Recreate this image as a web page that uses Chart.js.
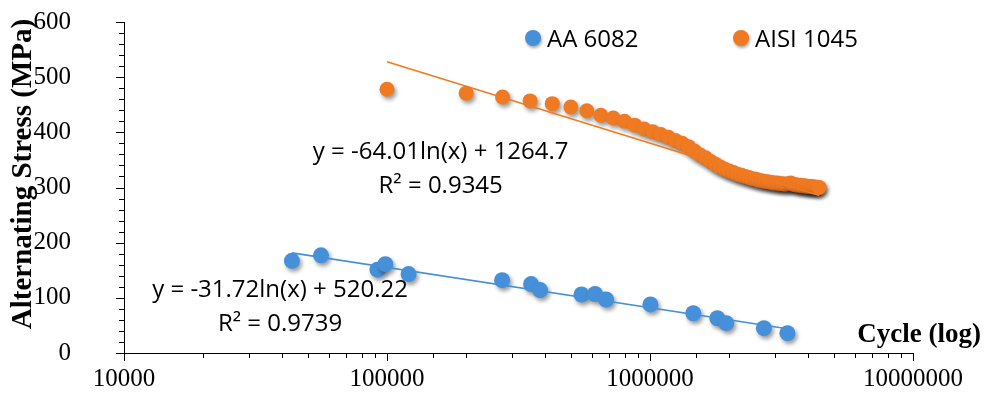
<!DOCTYPE html>
<html>
<head>
<meta charset="utf-8">
<script src="https://cdn.jsdelivr.net/npm/chart.js@4.4.1/dist/chart.umd.min.js"></script>
<style>
  html, body { margin: 0; padding: 0; background: #fff; }
  #wrap { width: 984px; height: 398px; }
</style>
</head>
<body>
<div id="wrap"><canvas id="sn" width="984" height="398"></canvas></div>
<script>
// S-N data
const seriesNames = ['AA 6082', 'AISI 1045'];

const aaCycles = [43500, 56100, 92000, 98600, 120800, 274000, 353000, 382000, 549000, 618000,
  681000, 1004000, 1461000, 1803000, 1950000, 2710000, 3330000];
const aaStress = [167, 177, 151, 161, 143, 132, 125, 114, 106, 107,
  97, 88, 72, 63, 54, 45, 36];

const aisiCycles = [100000, 200000, 275000, 350000, 425000, 500000, 575000, 650000, 725000, 800000,
  875000, 950000, 1025000, 1100000, 1175000, 1250000, 1325000, 1400000, 1475000, 1550000,
  1625000, 1700000, 1775000, 1850000, 1925000, 2000000, 2075000, 2150000, 2225000, 2300000,
  2375000, 2450000, 2525000, 2600000, 2675000, 2750000, 2825000, 2900000, 2975000, 3050000,
  3125000, 3200000, 3275000, 3350000, 3425000, 3500000, 3575000, 3650000, 3725000, 3800000,
  3875000, 3950000, 4025000, 4100000, 4175000, 4250000, 4325000, 4400000];
const aisiStress = [478, 471, 464, 457, 452, 446, 439, 431, 426, 420,
  413, 406, 401, 396, 391, 385, 380, 374, 366, 359,
  354, 347, 342, 337, 333, 330, 327, 324, 322, 320,
  318, 316, 315, 313, 312, 311, 310, 309, 308, 308,
  307, 307, 306, 307, 308, 306, 305, 304, 304, 303,
  303, 302, 302, 302, 301, 301, 300, 300];

// log trend lines y = a*ln(x) + b
const aaFit = [-31.72, 520.22];
const aisiFit = [-64.01, 1264.7];
const aaFitText = ['y = -31.72ln(x) + 520.22', 'R\u00b2 = 0.9739'];
const aisiFitText = ['y = -64.01ln(x) + 1264.7', 'R\u00b2 = 0.9345'];

const xTickValues = [10000, 100000, 1000000, 10000000];
const yTickValues = [0, 100, 200, 300, 400, 500, 600];

const blue = '#4590d8';
const orange = '#f07a22';

function pts(xs, ys) {
  return xs.map((x, i) => ({ x: x, y: ys[i] }));
}
function fitLine(xs, fit) {
  const lo = Math.min(...xs), hi = Math.max(...xs);
  return [lo, hi].map(x => ({ x: x, y: fit[0] * Math.log(x) + fit[1] }));
}
function isDecade(v) {
  const l = Math.log10(v);
  return Math.abs(l - Math.round(l)) < 1e-6;
}

// drop shadow under the markers
const shadowPlugin = {
  id: 'shadow',
  beforeDatasetDraw(chart, args) {
    if (!chart.data.datasets[args.index].shadow) return;
    const ctx = chart.ctx;
    ctx.save();
    ctx.shadowColor = 'rgba(0,0,0,0.4)';
    ctx.shadowBlur = 4;
    ctx.shadowOffsetX = 2;
    ctx.shadowOffsetY = 3;
  },
  afterDatasetDraw(chart, args) {
    if (!chart.data.datasets[args.index].shadow) return;
    chart.ctx.restore();
  }
};

// tick marks (long on majors), legend, fit equations, axis titles
const decorPlugin = {
  id: 'decor',
  afterDraw(chart) {
    const ctx = chart.ctx;
    const xs = chart.scales.x, ys = chart.scales.y;
    const area = chart.chartArea;
    ctx.save();
    ctx.strokeStyle = '#000';
    ctx.lineWidth = 1;
    ctx.beginPath();
    xs.ticks.forEach(t => {
      const px = Math.round(xs.getPixelForValue(t.value)) + 0.5;
      const len = isDecade(t.value) ? 8 : 5;
      ctx.moveTo(px, area.bottom);
      ctx.lineTo(px, area.bottom + len);
    });
    ys.ticks.forEach(t => {
      const py = Math.round(ys.getPixelForValue(t.value)) + 0.5;
      const len = t.value % 100 === 0 ? 8 : 5;
      ctx.moveTo(area.left, py);
      ctx.lineTo(area.left - len, py);
    });
    ctx.stroke();

    // legend
    ctx.font = '24px "Open Sans"';
    ctx.textBaseline = 'middle';
    ctx.textAlign = 'left';
    const leg = [[533, blue, seriesNames[0]], [741, orange, seriesNames[1]]];
    leg.forEach(([lx, col, name]) => {
      ctx.save();
      ctx.shadowColor = 'rgba(0,0,0,0.35)';
      ctx.shadowBlur = 3;
      ctx.shadowOffsetX = 1;
      ctx.shadowOffsetY = 2;
      ctx.fillStyle = col;
      ctx.beginPath();
      ctx.arc(lx, 38, 8, 0, Math.PI * 2);
      ctx.fill();
      ctx.restore();
      ctx.fillStyle = '#000';
      ctx.fillText(name, lx + 14, 40);
    });

    // fit equations
    ctx.textAlign = 'center';
    ctx.textBaseline = 'alphabetic';
    const eqs = [[160000, 352, aisiFitText], [39200, 101, aaFitText]];
    eqs.forEach(([ex, ey, lines]) => {
      const px = xs.getPixelForValue(ex);
      const py = ys.getPixelForValue(ey);
      ctx.fillText(lines[0], px, py);
      ctx.fillText(lines[1], px, py + 34);
    });

    // axis titles
    ctx.font = 'bold 27px "Liberation Serif"';
    ctx.textAlign = 'right';
    ctx.fillText('Cycle (log)', 981, 342);
    ctx.font = 'bold 29px "Liberation Serif"';
    ctx.translate(24, 174);
    ctx.rotate(-Math.PI / 2);
    ctx.textAlign = 'center';
    ctx.textBaseline = 'middle';
    ctx.fillText('Alternating Stress (MPa)', 0, 0);
    ctx.restore();
  }
};

new Chart(document.getElementById('sn'), {
  type: 'scatter',
  data: {
    datasets: [
      { label: seriesNames[0] + ' fit', type: 'line', data: fitLine(aaCycles, aaFit),
        borderColor: blue, borderWidth: 1.6, pointRadius: 0, order: 0 },
      { label: seriesNames[1] + ' fit', type: 'line', data: fitLine(aisiCycles, aisiFit),
        borderColor: orange, borderWidth: 1.6, pointRadius: 0, order: 0 },
      { label: seriesNames[0], data: pts(aaCycles, aaStress), backgroundColor: blue,
        borderWidth: 0, pointRadius: 8, order: 1, shadow: true },
      { label: seriesNames[1], data: pts(aisiCycles, aisiStress), backgroundColor: orange,
        borderWidth: 0, pointRadius: 7.5, order: 1, shadow: true }
    ]
  },
  options: {
    responsive: false,
    animation: false,
    devicePixelRatio: 1,
    layout: { padding: { left: 0, top: 22, right: 71, bottom: 0 } },
    plugins: { legend: { display: false }, tooltip: { enabled: false } },
    scales: {
      x: {
        type: 'logarithmic',
        min: 10000,
        max: 10000000,
        afterFit: s => { s.height = 45; },
        grid: { display: true, drawOnChartArea: false, color: 'transparent', tickLength: 8 },
        border: { display: true, color: '#000', width: 1 },
        ticks: {
          autoSkip: false,
          maxRotation: 0,
          padding: 3,
          color: '#000',
          font: { family: 'Liberation Serif', size: 25 },
          callback: v => (xTickValues.includes(v) ? String(v) : '')
        }
      },
      y: {
        min: 0,
        max: 600,
        afterFit: s => { s.width = 124; },
        grid: { display: true, drawOnChartArea: false, color: 'transparent', tickLength: 48 },
        border: { display: true, color: '#000', width: 1 },
        ticks: {
          stepSize: 20,
          autoSkip: false,
          padding: 5,
          color: '#000',
          font: { family: 'Liberation Serif', size: 25 },
          callback: v => (yTickValues.includes(v) ? String(v) : '')
        }
      }
    }
  },
  plugins: [shadowPlugin, decorPlugin]
});
</script>
</body>
</html>
